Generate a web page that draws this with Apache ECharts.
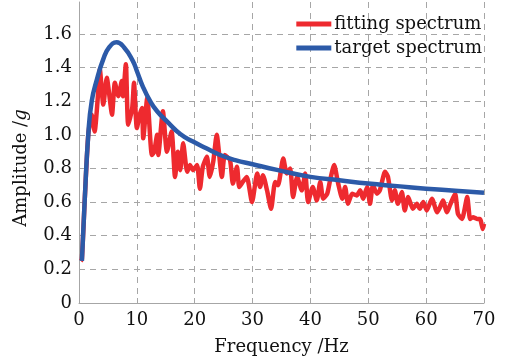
<!DOCTYPE html>
<html>
<head>
<meta charset="utf-8">
<script src="https://cdn.jsdelivr.net/npm/echarts@6/dist/echarts.min.js"></script>
<style>
html,body{margin:0;padding:0;background:#fff;}
#chart{width:511px;height:361px;}
</style>
</head>
<body>
<div id="chart"></div>
<script>
// Data
var seriesNames = ['fitting spectrum', 'target spectrum'];
var xTicks = [0, 10, 20, 30, 40, 50, 60, 70];
var yTicks = [0, 0.2, 0.4, 0.6, 0.8, 1.0, 1.2, 1.4, 1.6];

var targetFreq = [0.5, 1.0, 1.6, 2.2, 3.1, 4.2, 5.2, 6.5, 7.8, 9.3, 10.0, 11.0, 12.3, 13.5, 15.2, 17.5, 19.7, 22, 24.4, 27, 30, 34.4, 40, 45, 50, 55, 60, 65, 70];
var targetAmp  = [0.25, 0.62, 1.0, 1.2, 1.33, 1.45, 1.52, 1.55, 1.52, 1.44, 1.38, 1.29, 1.2, 1.14, 1.08, 1.005, 0.96, 0.92, 0.88, 0.85, 0.825, 0.79, 0.75, 0.73, 0.71, 0.695, 0.68, 0.668, 0.655];

var fitFreq = [0.3, 0.5, 1.0, 1.6, 2.2, 2.7, 3.2, 3.6, 4.2, 4.8, 5.3, 5.7, 6.2, 6.8, 7.4, 7.6, 8.1, 8.5, 9.2, 9.5, 10.0, 10.5, 10.9, 11.1, 11.8, 12.6, 13.0, 13.5, 13.7, 14.5, 15.2, 16.0, 16.6, 17.1, 17.5, 18.0, 18.7, 19.2, 19.7, 20.4, 20.9, 21.4, 22.1, 22.6, 23.2, 23.8, 24.7, 25.2, 26.1, 26.6, 27.3, 27.7, 28.3, 29.0, 29.9, 30.8, 31.3, 31.8, 32.5, 33.2, 33.9, 34.4, 35.3, 35.9, 36.5, 37.0, 37.7, 38.5, 39.1, 39.6, 40.4, 41.1, 41.7, 42.2, 42.9, 43.4, 44.1, 44.8, 45.5, 46.0, 46.5, 47.2, 48.0, 48.6, 49.1, 49.8, 50.3, 50.8, 51.5, 52.0, 52.9, 53.4, 54.1, 54.6, 55.1, 55.8, 56.3, 56.9, 57.7, 58.4, 58.9, 59.5, 60.1, 61.0, 61.9, 62.4, 62.9, 63.6, 64.1, 65.0, 65.5, 66.2, 67.1, 67.6, 68.1, 68.8, 69.3, 69.8, 70.0];
var fitAmp  = [0.25, 0.26, 0.62, 1.0, 1.12, 1.02, 1.2, 1.39, 1.18, 1.34, 1.22, 1.12, 1.31, 1.23, 1.32, 1.23, 1.42, 1.06, 1.16, 1.31, 1.04, 1.12, 1.16, 0.98, 1.22, 0.88, 0.9, 1.0, 0.88, 1.14, 0.9, 1.02, 0.75, 0.9, 0.79, 0.95, 0.78, 0.82, 0.79, 0.82, 0.68, 0.81, 0.87, 0.75, 0.84, 1.0, 0.75, 0.88, 0.85, 0.71, 0.81, 0.69, 0.72, 0.75, 0.60, 0.77, 0.69, 0.76, 0.67, 0.56, 0.72, 0.70, 0.86, 0.77, 0.80, 0.63, 0.75, 0.67, 0.77, 0.60, 0.69, 0.61, 0.72, 0.62, 0.65, 0.73, 0.82, 0.71, 0.62, 0.69, 0.59, 0.65, 0.64, 0.67, 0.62, 0.69, 0.59, 0.70, 0.65, 0.67, 0.78, 0.75, 0.61, 0.67, 0.59, 0.66, 0.55, 0.63, 0.56, 0.59, 0.56, 0.60, 0.55, 0.62, 0.54, 0.57, 0.61, 0.54, 0.58, 0.65, 0.53, 0.50, 0.63, 0.50, 0.51, 0.50, 0.50, 0.44, 0.47];

function pairs(xs, ys) { return xs.map(function (x, i) { return [x, ys[i]]; }); }

var FONT = 'DejaVu Serif';
var FS = 18;
var TXT = '#111111';
var gridColors = yTicks.map(function () { return '#a6a6a6'; }).concat(['rgba(0,0,0,0)']);

var chart = echarts.init(document.getElementById('chart'), null, {renderer: 'canvas'});
chart.setOption({
  animation: false,
  backgroundColor: '#ffffff',
  grid: {left: 79, right: 27, top: 2, bottom: 53, containLabel: false},
  legend: {
    data: [{name: seriesNames[0], icon: 'rect'}, {name: seriesNames[1], icon: 'rect'}],
    orient: 'vertical',
    right: 24,
    top: 10,
    itemWidth: 35,
    itemHeight: 5,
    itemGap: 6,
    align: 'left',
    textStyle: {fontFamily: FONT, fontSize: FS, color: TXT, padding: [0, 0, 0, -2]}
  },
  xAxis: {
    type: 'value',
    min: 0, max: 70, interval: 10,
    name: 'Frequency /Hz',
    nameLocation: 'middle',
    nameGap: 35,
    nameTextStyle: {fontFamily: FONT, fontSize: FS, color: TXT},
    axisLine: {show: true, lineStyle: {color: '#a6a6a6', width: 1}},
    axisTick: {show: true, inside: true, length: 5, lineStyle: {color: '#a6a6a6'}},
    axisLabel: {fontFamily: FONT, fontSize: FS, color: TXT, margin: 8,
      formatter: function (v) { return xTicks.indexOf(v) >= 0 ? String(v) : ''; }},
    splitLine: {show: true, lineStyle: {color: '#a6a6a6', type: [6, 5], width: 1}}
  },
  yAxis: {
    type: 'value',
    min: 0, max: 1.79, interval: 0.2,
    axisLine: {show: true, lineStyle: {color: '#a6a6a6', width: 1}},
    axisTick: {show: false},
    axisLabel: {fontFamily: FONT, fontSize: FS, color: TXT, margin: 7, showMaxLabel: false,
      formatter: function (v) {
        var r = Math.round(v * 10) / 10;
        if (Math.abs(r - v) > 1e-6 || r > 1.6) return '';
        return r === 0 ? '0' : r.toFixed(1);
      }},
    splitLine: {show: true, lineStyle: {color: gridColors, type: [6, 5], width: 1}}
  },
  graphic: [{
    type: 'text',
    x: 21, y: 168,
    rotation: Math.PI / 2,
    style: {
      text: '{n|Amplitude /}{i|g}',
      rich: {
        n: {fontFamily: FONT, fontSize: FS, fill: TXT},
        i: {fontFamily: FONT, fontSize: FS, fontStyle: 'italic', fill: TXT}
      },
      align: 'center',
      verticalAlign: 'middle'
    }
  }],
  series: [
    {
      name: seriesNames[0],
      type: 'line',
      data: pairs(fitFreq, fitAmp),
      smooth: 0.2,
      symbol: 'none',
      lineStyle: {color: '#ee2a2f', width: 4.5},
      itemStyle: {color: '#ee2a2f'},
      z: 2
    },
    {
      name: seriesNames[1],
      type: 'line',
      data: pairs(targetFreq, targetAmp),
      smooth: 0.5,
      symbol: 'none',
      lineStyle: {color: '#2c5aa8', width: 4.5},
      itemStyle: {color: '#2c5aa8'},
      z: 3
    }
  ]
});
</script>
</body>
</html>
